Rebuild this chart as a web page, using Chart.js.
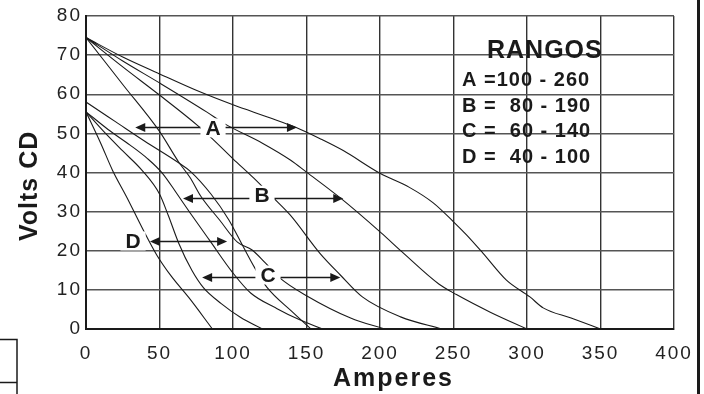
<!DOCTYPE html>
<html>
<head>
<meta charset="utf-8">
<script src="https://cdn.jsdelivr.net/npm/chart.js@4.4.1/dist/chart.umd.min.js"></script>
<style>
    html, body { margin: 0; padding: 0; background: #fff; }
    #wrap { position: relative; width: 704px; height: 394px; }
</style>
</head>
<body>
<div id="wrap"><canvas id="vaChart" width="704" height="394"></canvas></div>
<script>
// --- Data (amperes vs volts CD) ---
const ampTicks = [0, 50, 100, 150, 200, 250, 300, 350, 400];
const voltTicks = [0, 10, 20, 30, 40, 50, 60, 70, 80];

// range A
const curveA1Amps  = [0, 25, 50, 75, 100, 125, 143, 160, 175, 200, 220, 236, 250, 259, 270, 286, 302, 311, 330, 350];
const curveA1Volts = [74.5, 69.5, 65.2, 61, 57.3, 54, 51.5, 48.5, 45.6, 39.8, 36.2, 32.3, 27.4, 24, 19.4, 12.5, 8.2, 5.4, 2.8, 0];
const curveA2Amps  = [0, 25, 50, 82, 95, 120, 139, 150, 173, 201, 215, 240, 252, 275, 300];
const curveA2Volts = [74.5, 68.5, 62.9, 55.5, 52.3, 47.5, 43.2, 40.1, 33.5, 24.5, 19.7, 11.5, 8.8, 4.3, 0];
// range B
const curveB1Amps  = [0, 25, 50, 76, 86, 100, 114, 127, 139, 159, 173, 188, 214, 242];
const curveB1Volts = [74.5, 67, 59.8, 52, 48.6, 43.5, 38.6, 33.7, 29.1, 19.4, 13.8, 8.2, 3.1, 0];
const curveB2Amps  = [0, 25, 50, 63, 71, 78, 91, 103, 113, 122, 132, 150, 180, 203];
const curveB2Volts = [74.5, 62.5, 50.5, 42.7, 38.6, 34, 27.8, 22.2, 20.2, 16.9, 13, 8.5, 2.8, 0];
// range C
const curveC1Amps  = [0, 20, 40, 63, 71, 85, 97, 107, 115, 123, 140, 153];
const curveC1Volts = [58, 53, 48, 42.5, 40.3, 34.5, 28, 21, 15.5, 10.7, 4.5, 0];
const curveC2Amps  = [0, 15, 30, 42, 52, 62, 71, 84, 100, 112, 130, 145, 161];
const curveC2Volts = [55.5, 51, 47, 43.5, 39.8, 34.5, 29.6, 22.7, 14.3, 9.2, 5.2, 2.4, 0];
// range D
const curveD1Amps  = [0, 10, 18, 28, 38, 48, 58, 70, 86];
const curveD1Volts = [55.5, 47.5, 40.6, 33.5, 26, 19, 13.5, 8, 0];
const curveD2Amps  = [0, 12, 25, 38, 50, 56, 63, 72, 80, 92, 105, 120];
const curveD2Volts = [55.5, 50.5, 45.5, 40.6, 34.5, 29, 22, 15, 10.5, 6.5, 3, 0];

// range markers (arrows with letter)
const markLabels     = ['A', 'B', 'C', 'D'];
const markVolts      = [51.55, 33.4, 13.4, 22.6];
const markFromAmps   = [33.5, 66, 79, 43.5];
const markToAmps     = [143.5, 175, 173, 96];
const markLabelAmps  = [86.4, 119.7, 123.8, 32];
const markLabelVolts = [51.4, 34.2, 13.8, 22.5];

// legend box text
const rangeTitle = 'RANGOS';
const rangeLines = ['A =100 - 260', 'B =  80 - 190', 'C =  60 - 140', 'D =  40 - 100'];

const xTitle = 'Amperes';
const yTitle = 'Volts CD';

const curves = [
    [curveA1Amps, curveA1Volts], [curveA2Amps, curveA2Volts],
    [curveB1Amps, curveB1Volts], [curveB2Amps, curveB2Volts],
    [curveC1Amps, curveC1Volts], [curveC2Amps, curveC2Volts],
    [curveD1Amps, curveD1Volts], [curveD2Amps, curveD2Volts]
];

const FONT = '"Liberation Sans", Arial, sans-serif';
const INK = '#1a1a1a';

function arrowHead(ctx, px, py, dir) {
    ctx.beginPath();
    ctx.moveTo(px, py);
    ctx.lineTo(px - dir * 10, py - 4.5);
    ctx.lineTo(px - dir * 10, py + 4.5);
    ctx.closePath();
    ctx.fill();
}

const overlayPlugin = {
    id: 'overlay',
    beforeDraw(chart) {
        // the scanned original has loosely spaced lettering
        chart.ctx.letterSpacing = '2px';
    },
    afterDatasetsDraw(chart) {
        const { ctx, scales: { x, y } } = chart;
        ctx.save();
        ctx.letterSpacing = '0px';
        ctx.strokeStyle = INK;
        ctx.fillStyle = INK;
        ctx.lineWidth = 1.6;

        markLabels.forEach((lab, i) => {
            const py = Math.round(y.getPixelForValue(markVolts[i])) + 0.5;
            const x0 = x.getPixelForValue(markFromAmps[i]);
            const x1 = x.getPixelForValue(markToAmps[i]);
            ctx.beginPath();
            ctx.moveTo(x0 + 6, py);
            ctx.lineTo(x1 - 6, py);
            ctx.stroke();
            arrowHead(ctx, x0, py, -1);
            arrowHead(ctx, x1, py, 1);

            // white gap behind the letter, like the original
            const lx = x.getPixelForValue(markLabelAmps[i]);
            const ly = y.getPixelForValue(markLabelVolts[i]);
            ctx.font = 'bold 21px ' + FONT;
            const w = ctx.measureText(lab).width;
            ctx.fillStyle = '#fff';
            ctx.fillRect(lx - w / 2 - 5, ly - 9.5, w + 10, 19);
            ctx.fillStyle = INK;
            ctx.textAlign = 'center';
            ctx.textBaseline = 'middle';
            ctx.fillText(lab, lx, ly + 1);
        });

        // RANGOS box text
        ctx.textAlign = 'left';
        ctx.textBaseline = 'alphabetic';
        ctx.letterSpacing = '1px';
        ctx.font = 'bold 25px ' + FONT;
        ctx.fillText(rangeTitle, 487, 58);
        ctx.font = 'bold 20px ' + FONT;
        const baselines = [86, 112, 137, 163];
        rangeLines.forEach((t, i) => ctx.fillText(t, 462, baselines[i]));
        ctx.restore();
    },
    afterDraw(chart) {
        const { ctx } = chart;
        ctx.save();
        ctx.fillStyle = INK;
        ctx.strokeStyle = INK;
        ctx.textBaseline = 'alphabetic';

        // axis titles
        ctx.font = 'bold 25px ' + FONT;
        ctx.letterSpacing = '2px';
        ctx.textAlign = 'left';
        ctx.fillText(xTitle, 333, 386);

        ctx.letterSpacing = '1px';
        ctx.translate(37, 241);
        ctx.rotate(-Math.PI / 2);
        ctx.fillText(yTitle, 0, 0);
        ctx.setTransform(1, 0, 0, 1, 0, 0);

        // page frame remnants visible in the scan
        ctx.fillRect(697, 0, 3, 394);
        ctx.lineWidth = 1.5;
        ctx.strokeRect(-2, 339.5, 19, 60);
        ctx.beginPath();
        ctx.moveTo(0, 382.5);
        ctx.lineTo(17, 382.5);
        ctx.stroke();
        ctx.restore();
    }
};

new Chart(document.getElementById('vaChart'), {
    type: 'scatter',
    data: {
        datasets: curves.map(([amps, volts]) => ({
            data: amps.map((a, i) => ({ x: a, y: volts[i] })),
            showLine: true,
            pointRadius: 0,
            borderColor: INK,
            borderWidth: 1.1,
            cubicInterpolationMode: 'monotone'
        }))
    },
    options: {
        responsive: false,
        animation: false,
        events: [],
        layout: { padding: { top: 16, right: 30, left: 0, bottom: 0 } },
        plugins: {
            legend: { display: false },
            tooltip: { enabled: false }
        },
        scales: {
            x: {
                type: 'linear',
                min: 0,
                max: 400,
                afterBuildTicks: s => { s.ticks = ampTicks.map(v => ({ value: v })); },
                afterFit: s => { s.height = 65; },
                grid: { color: '#333', lineWidth: 1.4, drawTicks: false },
                border: { color: INK, width: 2 },
                ticks: {
                    padding: 13,
                    maxRotation: 0,
                    color: '#222',
                    font: { family: FONT, size: 19 }
                }
            },
            y: {
                type: 'linear',
                min: 0,
                max: 80,
                afterBuildTicks: s => { s.ticks = voltTicks.map(v => ({ value: v })); },
                afterFit: s => { s.width = 86; },
                grid: { color: '#555', lineWidth: 1.5, drawTicks: false },
                border: { color: INK, width: 2 },
                ticks: {
                    padding: 4,
                    color: '#222',
                    font: { family: FONT, size: 19 }
                }
            }
        }
    },
    plugins: [overlayPlugin]
});
</script>
</body>
</html>
